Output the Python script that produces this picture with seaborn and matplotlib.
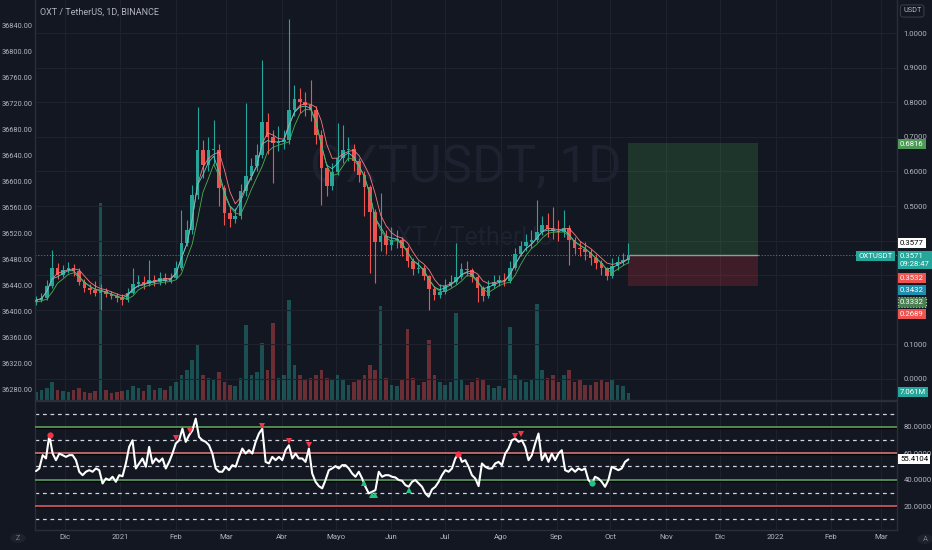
import numpy as np
import pandas as pd
import seaborn as sns
import matplotlib.pyplot as plt
import matplotlib.dates as mdates

# OXT / TetherUS 1D, values in 3-day steps
start_day = "2020-11-15"
first_open = 0.222
closes = [0.228, 0.234, 0.269, 0.321, 0.301, 0.315, 0.321, 0.312, 0.280, 0.263,
          0.257, 0.250, 0.254, 0.246, 0.240, 0.234, 0.228, 0.249, 0.275, 0.280,
          0.275, 0.286, 0.280, 0.292, 0.283, 0.292, 0.321, 0.393, 0.431, 0.532,
          0.662, 0.618, 0.662, 0.662, 0.552, 0.480, 0.462, 0.471, 0.543, 0.587,
          0.616, 0.647, 0.743, 0.699, 0.682, 0.685, 0.691, 0.777, 0.809, 0.801,
          0.792, 0.777, 0.705, 0.610, 0.558, 0.598, 0.639, 0.662, 0.665, 0.630,
          0.590, 0.555, 0.483, 0.396, 0.413, 0.387, 0.402, 0.402, 0.379, 0.341,
          0.318, 0.321, 0.298, 0.260, 0.243, 0.251, 0.269, 0.280, 0.295, 0.318,
          0.315, 0.295, 0.263, 0.240, 0.269, 0.280, 0.286, 0.283, 0.321, 0.361,
          0.384, 0.396, 0.402, 0.425, 0.445, 0.434, 0.428, 0.425, 0.436, 0.402,
          0.379, 0.376, 0.367, 0.350, 0.335, 0.321, 0.298, 0.327, 0.338, 0.344,
          0.357]
highs = [0.240, 0.250, 0.285, 0.373, 0.335, 0.330, 0.338, 0.332, 0.320, 0.290,
         0.275, 0.282, 0.275, 0.262, 0.255, 0.250, 0.245, 0.262, 0.321, 0.300,
         0.298, 0.344, 0.300, 0.310, 0.305, 0.305, 0.340, 0.488, 0.460, 0.560,
         0.786, 0.690, 0.700, 0.749, 0.680, 0.560, 0.500, 0.495, 0.565, 0.798,
         0.640, 0.680, 0.922, 0.770, 0.720, 0.730, 0.720, 1.040, 0.850, 0.840,
         0.830, 0.864, 0.790, 0.720, 0.620, 0.625, 0.740, 0.734, 0.700, 0.680,
         0.640, 0.600, 0.560, 0.490, 0.538, 0.430, 0.440, 0.430, 0.410, 0.385,
         0.350, 0.340, 0.330, 0.300, 0.270, 0.275, 0.290, 0.300, 0.393, 0.335,
         0.340, 0.320, 0.300, 0.270, 0.285, 0.300, 0.300, 0.305, 0.340, 0.380,
         0.400, 0.420, 0.430, 0.517, 0.470, 0.480, 0.497, 0.460, 0.488, 0.445,
         0.410, 0.400, 0.395, 0.375, 0.360, 0.345, 0.325, 0.350, 0.355, 0.365,
         0.392]
lows = [0.215, 0.222, 0.228, 0.262, 0.290, 0.295, 0.305, 0.298, 0.272, 0.252,
        0.245, 0.240, 0.200, 0.238, 0.230, 0.222, 0.215, 0.222, 0.245, 0.265,
        0.260, 0.268, 0.270, 0.272, 0.275, 0.278, 0.288, 0.315, 0.385, 0.420,
        0.520, 0.580, 0.600, 0.620, 0.500, 0.445, 0.440, 0.450, 0.462, 0.530,
        0.575, 0.600, 0.640, 0.650, 0.566, 0.660, 0.665, 0.680, 0.760, 0.770,
        0.760, 0.745, 0.680, 0.503, 0.530, 0.545, 0.590, 0.625, 0.630, 0.600,
        0.570, 0.470, 0.306, 0.277, 0.370, 0.360, 0.372, 0.380, 0.355, 0.325,
        0.300, 0.305, 0.285, 0.200, 0.228, 0.235, 0.245, 0.265, 0.275, 0.290,
        0.298, 0.280, 0.222, 0.225, 0.235, 0.262, 0.270, 0.268, 0.278, 0.315,
        0.355, 0.370, 0.380, 0.395, 0.415, 0.410, 0.405, 0.400, 0.410, 0.330,
        0.360, 0.355, 0.345, 0.330, 0.318, 0.300, 0.285, 0.292, 0.315, 0.330,
        0.335]
volumes = [8, 10, 12, 18, 10, 9, 8, 10, 12, 8, 7, 9, 197, 10, 7, 8, 9, 10, 14, 12,
           9, 15, 10, 12, 10, 14, 18, 25, 30, 40, 55, 25, 22, 20, 28, 18, 15, 14, 22, 75,
           25, 28, 57, 30, 77, 22, 25, 100, 35, 25, 20, 22, 25, 30, 22, 20, 25, 20, 15, 18,
           20, 25, 35, 30, 94, 22, 15, 14, 20, 71, 22, 15, 18, 60, 25, 18, 15, 18, 87, 20,
           15, 18, 22, 20, 15, 12, 14, 12, 73, 25, 20, 18, 20, 96, 30, 22, 25, 18, 25, 30,
           18, 20, 15, 15, 18, 20, 18, 20, 15, 14, 7.06]

rsi_values = [46.5, 48.5, 58.6, 56.1, 73.7, 59.8, 54.8, 59.8, 58.6, 57.3, 58.6, 58.6, 54.8,
              46.0, 43.4, 46.0, 47.2, 46.0, 48.5, 47.2, 37.1, 40.9, 39.7, 42.2, 38.4, 43.4,
              42.6, 52.3, 64.9, 69.9, 48.5, 52.3, 56.1, 49.8, 64.9, 52.3, 56.1, 53.5, 56.1,
              48.5, 53.5, 59.8, 67.4, 69.9, 78.7, 68.7, 73.7, 77.5, 86.3, 72.4, 69.9, 68.7,
              66.1, 59.8, 48.5, 46.0, 46.0, 49.8, 47.2, 51.0, 49.8, 57.3, 63.6, 59.8, 62.4,
              59.8, 68.7, 75.0, 78.7, 53.5, 52.3, 57.3, 54.8, 57.3, 54.8, 62.4, 66.1, 56.1,
              59.8, 56.1, 56.1, 53.5, 63.6, 44.7, 38.4, 35.1, 33.4, 39.7, 47.2, 48.5, 50.3,
              48.5, 51.0, 51.0, 48.5, 44.7, 42.2, 46.0, 40.9, 34.6, 29.6, 30.8, 32.1, 46.0,
              42.2, 43.4, 43.4, 42.2, 41.7, 39.7, 39.2, 35.9, 34.6, 38.4, 39.7, 37.1, 34.6,
              29.6, 27.1, 32.6, 34.6, 38.4, 43.4, 47.2, 46.0, 48.5, 56.1,
              59.8, 53.5, 54.8, 49.8, 43.4, 40.9, 35.1, 52.3, 49.8, 48.5, 48.5, 52.3, 53.5,
              51.0, 59.8, 63.6, 69.9, 71.2, 68.7, 69.9, 64.9, 54.8, 58.6, 67.4, 75.0, 54.8,
              59.8, 53.5, 59.8, 54.8, 59.8, 62.4, 47.2, 46.0, 48.5, 46.0, 48.5, 47.2, 48.5,
              39.7, 37.1, 42.2, 40.9, 38.4, 34.6, 39.7, 49.8, 48.5, 47.2, 48.5, 53.5, 55.4]
rsi_end_day = "2021-10-11"
last_rsi = "55.4104"

ob_dates = ["2020-11-23", "2021-02-01", "2021-02-09", "2021-03-21", "2021-04-05",
            "2021-04-16", "2021-07-08", "2021-08-09", "2021-08-12"]
ob_values = [73.7, 71.5, 77.0, 81.0, 69.0, 66.5, 59.8, 73.0, 74.5]
ob_kinds = ["o", "v", "v", "v", "v", "v", "o", "v", "v"]
os_dates = ["2021-05-17", "2021-05-21", "2021-05-23", "2021-06-11", "2021-09-21"]
os_values = [37.5, 28.5, 28.5, 32.0, 37.1]
os_kinds = ["^", "^", "^", "^", "o"]

month_labels = ["Dic", "2021", "Feb", "Mar", "Abr", "Mayo", "Jun", "Jul", "Ago",
                "Sep", "Oct", "Nov", "Dic", "2022", "Feb", "Mar"]
price_ticks = [0.0, 0.1, 0.2, 0.3, 0.4, 0.5, 0.6, 0.7, 0.8, 0.9, 1.0]
price_labels = ["0.0000", "0.1000", "", "", "", "0.5000", "0.6000", "0.7000",
                "0.8000", "0.9000", "1.0000"]
left_ticks = [36280, 36320, 36360, 36400, 36440, 36480, 36520, 36560, 36600,
              36640, 36680, 36720, 36760, 36800, 36840]
rsi_ticks = [20, 40, 60, 80]

entry_price = 0.3571
target_price = 0.6816
stop_price = 0.2689
position_end = "2021-12-22"

BG = "#131722"
GRID = "#1e222d"
TXT = "#b2b5be"
UP = "#26a69a"
DOWN = "#ef5350"
BORDER = "#2a2e39"

sns.set_theme(style="dark")
plt.rcParams["font.family"] = ["Roboto", "DejaVu Sans"]

W, H = 932, 550


def fx(px):
    return px / W


def fy(py):
    return 1 - py / H


dates = pd.date_range(start_day, periods=len(closes), freq="3D")
opens = [first_open] + closes[:-1]
df = pd.DataFrame({"date": dates, "open": opens, "close": closes,
                   "high": highs, "low": lows, "volume": volumes})
df["up"] = df["close"] >= df["open"]
df["color"] = np.where(df["up"], UP, DOWN)
df["top"] = df[["open", "close"]].max(axis=1)
df["bot"] = df[["open", "close"]].min(axis=1)

d0 = mdates.date2num(pd.Timestamp(start_day))
xlim = (d0 - 1 / 1.795, d0 + 861 / 1.795)
month_dates = pd.date_range("2020-12-01", "2022-03-01", freq="MS")

fig = plt.figure(figsize=(W / 100, H / 100), dpi=100, facecolor=BG)
rect_main = [fx(35), fy(400), fx(862), 400 / H]
axv = fig.add_axes(rect_main, facecolor=BG)
ax = fig.add_axes(rect_main, facecolor="none")
ax_rsi = fig.add_axes([fx(35), fy(530), fx(862), 129 / H], facecolor=BG)

# volume underneath
axv.bar(df["date"], df["volume"], width=2.0, color=df["color"], alpha=0.4, linewidth=0)
axv.set_ylim(0, 400)
axv.set_xlim(xlim)
axv.set_xticks(month_dates)
axv.set_yticks([])
axv.tick_params(labelbottom=False, length=0)
axv.grid(axis="x", color=GRID, lw=0.8)
for s in axv.spines.values():
    s.set_visible(False)

# watermark
axv.text(fx(466), fy(168), "OXTUSDT, 1D", transform=fig.transFigure, fontsize=37,
         color="#1d2130", ha="center", va="center", zorder=0)
axv.text(fx(466), fy(238), "OXT / TetherUS", transform=fig.transFigure, fontsize=18,
         color="#1d2130", ha="center", va="center", zorder=0)

# price panel
ax.set_xlim(xlim)
ax.set_ylim(-0.0607, 1.0954)
ax.vlines(df["date"], df["low"], df["high"], colors=df["color"], linewidth=0.8, zorder=3)
ax.bar(df["date"], (df["top"] - df["bot"]).clip(lower=0.004), bottom=df["bot"],
       width=2.0, color=df["color"], linewidth=0, zorder=4)

df["ma_hi"] = df["top"].ewm(span=3).mean()
df["ma_mid"] = df["close"].ewm(span=3).mean()
df["ma_lo"] = df["bot"].ewm(span=3).mean()
sns.lineplot(data=df, x="date", y="ma_hi", ax=ax, color="#f77c80", lw=0.6, zorder=5)
sns.lineplot(data=df, x="date", y="ma_mid", ax=ax, color="#4dd0c4", lw=0.6, zorder=5)
sns.lineplot(data=df, x="date", y="ma_lo", ax=ax, color="#4caf50", lw=0.6, zorder=5)
ax.set_xlabel("")
ax.set_ylabel("")

# long position tool
last_date = df["date"].iloc[-1]
pos_w = mdates.date2num(pd.Timestamp(position_end)) - mdates.date2num(last_date)
ax.add_patch(plt.Rectangle((mdates.date2num(last_date), entry_price), pos_w,
                           target_price - entry_price, color="#4caf50", alpha=0.2,
                           lw=0, zorder=2))
ax.add_patch(plt.Rectangle((mdates.date2num(last_date), stop_price), pos_w,
                           entry_price - stop_price, color="#f23645", alpha=0.2,
                           lw=0, zorder=2))
ax.hlines(entry_price, mdates.date2num(last_date), mdates.date2num(last_date) + pos_w,
          color="#9598a1", lw=1, zorder=3)
ax.axhline(entry_price, color=UP, ls=(0, (1, 2)), lw=0.7, zorder=2)

# left scale (twinx flips the main ticks, so set sides afterwards)
axl = ax.twinx()
axl.set_ylim(36263.1, 36878.5)
axl.set_yticks(left_ticks)
axl.set_yticklabels([f"{v:.2f}" for v in left_ticks])
axl.grid(False)
for s in axl.spines.values():
    s.set_visible(False)
axl.yaxis.tick_left()
axl.tick_params(axis="y", length=0, labelsize=5.3, colors=TXT, pad=1.5)

ax.set_yticks(price_ticks)
ax.set_yticklabels(price_labels)
ax.yaxis.tick_right()
ax.set_xticks(month_dates)
ax.tick_params(axis="x", labelbottom=False, length=0)
ax.tick_params(axis="y", length=0, labelsize=5.6, colors=TXT, pad=4.5)
ax.grid(axis="y", color=GRID, lw=0.8)
ax.grid(axis="x", visible=False)
for name, s in ax.spines.items():
    s.set_color(BORDER)
    s.set_linewidth(1)
ax.spines["top"].set_visible(False)

# RSI panel
rsi_dates = pd.date_range(start_day, rsi_end_day, periods=len(rsi_values))
sns.lineplot(x=rsi_dates, y=rsi_values, ax=ax_rsi, color="white", lw=1.5, zorder=5)
for lvl in [90, 70, 50, 30, 10]:
    ax_rsi.axhline(lvl, color="#d1d4dc", ls=(0, (3, 3)), lw=0.9, zorder=2)
for lvl, col in [(80, "#5a9e5f"), (60, "#d37279"), (40, "#5a9e5f"), (20, "#d9585f")]:
    ax_rsi.axhline(lvl - 0.9, color="black", lw=1.0, zorder=2)
    ax_rsi.axhline(lvl, color=col, lw=1.2, zorder=3)
for d, v, k in zip(ob_dates, ob_values, ob_kinds):
    ax_rsi.plot(pd.Timestamp(d), v, marker=k, color="#f23645", ms=4.5, zorder=6, mew=0)
for d, v, k in zip(os_dates, os_values, os_kinds):
    ax_rsi.plot(pd.Timestamp(d), v, marker=k, color="#26c281", ms=4.5, zorder=6, mew=0)
ax_rsi.set_xlim(xlim)
ax_rsi.set_ylim(1.8, 99.7)
ax_rsi.set_yticks(rsi_ticks)
ax_rsi.set_yticklabels([f"{v:.4f}" for v in rsi_ticks])
ax_rsi.yaxis.tick_right()
ax_rsi.set_xticks(month_dates)
ax_rsi.set_xticklabels(month_labels)
ax_rsi.tick_params(axis="both", length=0, labelsize=5.6, colors=TXT)
ax_rsi.tick_params(axis="y", pad=4.5)
ax_rsi.tick_params(axis="x", pad=3)
ax_rsi.grid(axis="x", color=GRID, lw=0.8)
ax_rsi.grid(axis="y", visible=False)
ax_rsi.set_xlabel("")
ax_rsi.set_ylabel("")
for name, s in ax_rsi.spines.items():
    s.set_color(BORDER)
    s.set_linewidth(1)

# header and price labels
fig.text(fx(40), fy(12), "OXT / TetherUS, 1D, BINANCE", fontsize=6.5, color=TXT,
         ha="left", va="center")
fig.text(fx(903), fy(11), "USDT", fontsize=5.3, color=TXT, ha="left", va="center",
         bbox=dict(boxstyle="round,pad=0.35", fc=BG, ec="#363a45", lw=0.8))


def tag(px, py, s, fc, tc="white", ec="none", ls="-", ha="left"):
    fig.text(fx(px), fy(py), s, fontsize=5.6, color=tc, ha=ha, va="center",
             linespacing=1.4,
             bbox=dict(boxstyle="square,pad=0.3", fc=fc, ec=ec, lw=0.8, ls=ls))


tag(900, 144, f"{target_price:.4f}", "#4c9a55")
tag(900, 243, "0.3577", "white", tc="black")
tag(900, 260, f"{entry_price:.4f}\n09:28:47", UP)
tag(900, 278, "0.3532", DOWN)
tag(900, 290, "0.3432", "#1e8fae")
tag(900, 302, "0.3332", "#4b7f52", ec="#a5d6a7", ls=":")
tag(900, 314, f"{stop_price:.4f}", DOWN)
tag(900, 392, "7.061M", UP)
tag(893, 256, "OXTUSDT", UP, ha="right")
tag(900, 459, last_rsi, "white", tc="black")

fig.patches.append(plt.Circle((fx(18), fy(538)), 7 / W, transform=fig.transFigure,
                              color="#1e222d", zorder=1))
fig.patches.append(plt.Circle((fx(925), fy(539)), 7 / W, transform=fig.transFigure,
                              color="#1e222d", zorder=1))
fig.text(fx(18), fy(538), "Z", fontsize=5, color="#787b86", ha="center", va="center")
fig.text(fx(925), fy(539), "A", fontsize=5.5, color="#787b86", ha="center", va="center")

fig.savefig("out.png", dpi=100, facecolor=BG)
